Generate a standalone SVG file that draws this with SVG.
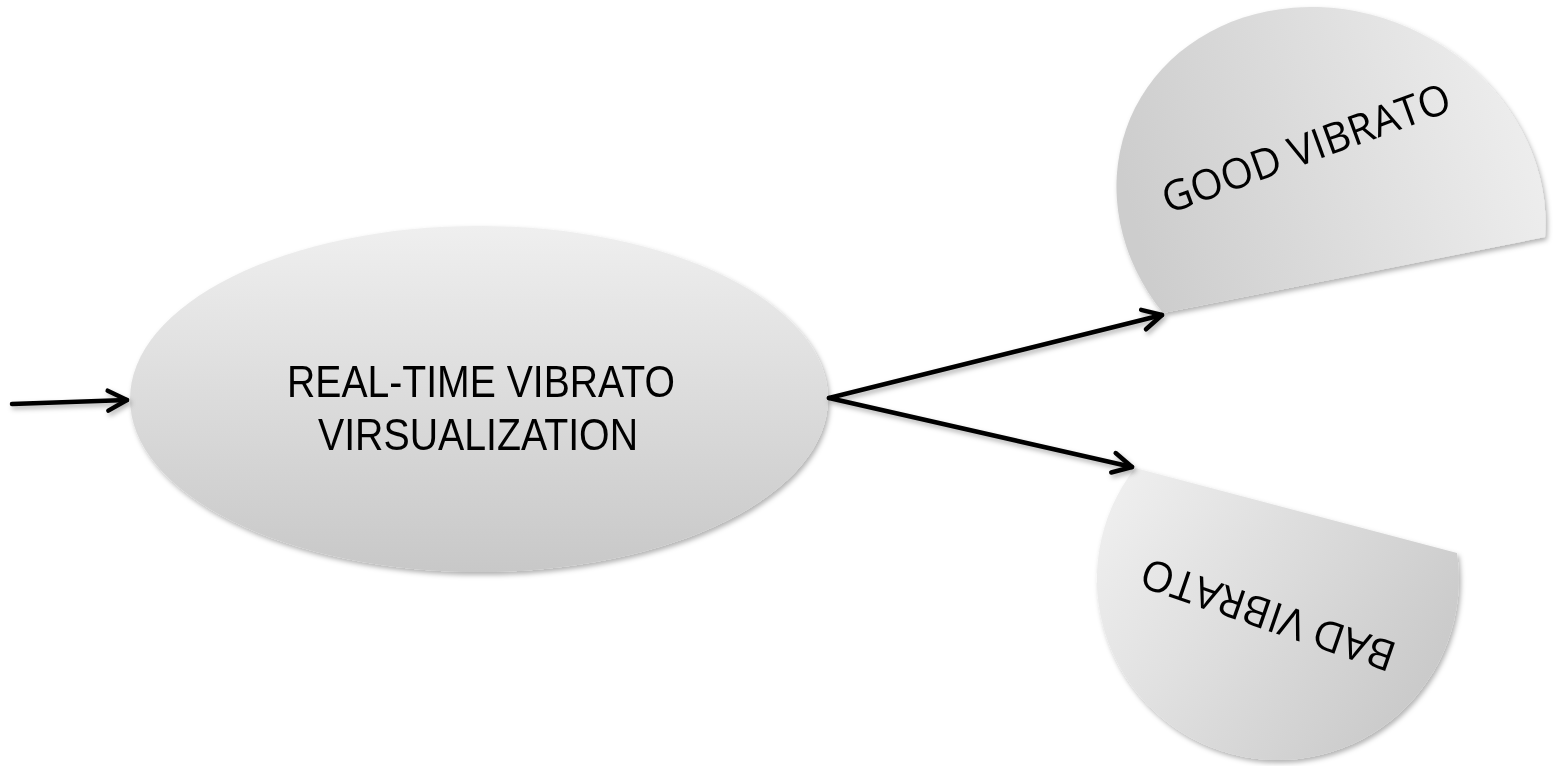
<svg xmlns="http://www.w3.org/2000/svg" width="1562" height="766" viewBox="0 0 1562 766">
  <style>
    .lbl { font-family: "Open Sans", "Liberation Sans", sans-serif; fill: #000000; text-anchor: middle; }
    .main { font-family: "Liberation Sans", Arial, sans-serif; fill: #000000; text-anchor: middle; }
    .conn { fill: none; stroke: #000000; stroke-width: 4.5; stroke-linecap: round; marker-end: url(#arrow); }
  </style>
  <defs>
    <linearGradient id="gMain" x1="0" y1="0" x2="0" y2="1">
      <stop offset="0" stop-color="#efefef"/>
      <stop offset="1" stop-color="#c8c8c8"/>
    </linearGradient>
    <linearGradient id="gGood" x1="0" y1="0.5" x2="1" y2="0.3">
      <stop offset="0" stop-color="#cdcdcd"/>
      <stop offset="1" stop-color="#efefef"/>
    </linearGradient>
    <linearGradient id="gBad" x1="0" y1="0.2" x2="1" y2="0.7">
      <stop offset="0" stop-color="#eeeeee"/>
      <stop offset="1" stop-color="#c8c8c8"/>
    </linearGradient>
    <filter id="shadow" x="-10%" y="-10%" width="125%" height="125%">
      <feDropShadow dx="2" dy="3" stdDeviation="2.5" flood-color="#000000" flood-opacity="0.3"/>
    </filter>
    <marker id="arrow" markerUnits="userSpaceOnUse" markerWidth="30" markerHeight="30" viewBox="0 0 30 30" refX="24" refY="15" orient="auto">
      <path d="M 5 5 L 24 15 L 5 25" fill="none" stroke="#000000" stroke-width="4.5" stroke-linecap="round" stroke-linejoin="round"/>
    </marker>
  </defs>

  <g id="node-realtime" filter="url(#shadow)">
    <ellipse cx="479" cy="399" rx="349" ry="173" fill="url(#gMain)"/>
    <text class="main" x="481" y="397" font-size="44" textLength="388" lengthAdjust="spacingAndGlyphs">REAL-TIME VIBRATO</text>
    <text class="main" x="478" y="450" font-size="44" textLength="320" lengthAdjust="spacingAndGlyphs">VIRSUALIZATION</text>
  </g>

  <g id="node-good" filter="url(#shadow)">
    <path d="M 1163 313 A 218.6 193.3 24.2 1 1 1545 237 Z" fill="url(#gGood)"/>
    <text class="lbl" transform="translate(1306 148) rotate(-20)" x="0" y="15" font-size="42" textLength="304" lengthAdjust="spacingAndGlyphs">GOOD VIBRATO</text>
  </g>

  <g id="node-bad" filter="url(#shadow)">
    <path d="M 1135 468 A 181 181 0 1 0 1457 553 Z" fill="url(#gBad)"/>
    <text class="lbl" transform="translate(1268 615) rotate(199)" x="0" y="15" font-size="42" textLength="266" lengthAdjust="spacingAndGlyphs">BAD VIBRATO</text>
  </g>

  <g id="connectors" filter="url(#shadow)">
    <line class="conn" x1="12" y1="404" x2="127" y2="400"/>
    <line class="conn" x1="829" y1="398" x2="1162" y2="315"/>
    <line class="conn" x1="829" y1="398" x2="1132" y2="467"/>
  </g>
</svg>
